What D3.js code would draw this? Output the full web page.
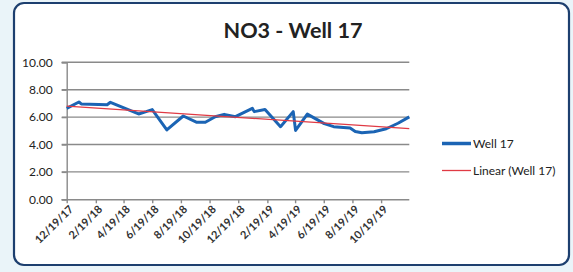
<!DOCTYPE html>
<html><head><meta charset="utf-8">
<script src="https://cdn.jsdelivr.net/npm/d3@7"></script>
<style>
html,body{margin:0;padding:0;background:#eaf4f9;}
svg{display:block;}
</style></head>
<body>
<svg id="c" width="573" height="272"></svg>
<script>
// ---- data ----
const title = "NO3 - Well 17";
const seriesName = "Well 17";
const trendName = "Linear (Well 17)";
const dates = ["2017-12-19","2018-01-14","2018-01-19","2018-03-15","2018-03-22","2018-05-21","2018-06-06","2018-06-19","2018-07-20","2018-08-24","2018-09-22","2018-10-10","2018-10-31","2018-11-19","2018-12-13","2019-01-18","2019-01-22","2019-02-14","2019-03-19","2019-04-15","2019-04-20","2019-05-15","2019-06-20","2019-07-10","2019-08-14","2019-08-25","2019-09-08","2019-10-04","2019-10-30","2019-11-24","2019-12-18"];
const values = [6.64,7.10,6.96,6.90,7.08,6.23,6.40,6.55,5.06,6.08,5.62,5.62,6.03,6.20,6.03,6.64,6.40,6.55,5.30,6.40,5.03,6.22,5.52,5.30,5.20,4.95,4.86,4.93,5.15,5.55,6.02];
const yTicks = [0,2,4,6,8,10];
const xTickLabels = ["12/19/17","2/19/18","4/19/18","6/19/18","8/19/18","10/19/18","12/19/18","2/19/19","4/19/19","6/19/19","8/19/19","10/19/19"];

const parse = d3.timeParse("%Y-%m-%d");
const parseTick = d3.timeParse("%m/%d/%y");
const pts = dates.map((d,i)=>({x:parse(d), y:values[i]}));

const svg = d3.select("#c");
const font = "Lato, 'Open Sans', sans-serif";

// frame
svg.append("rect").attr("x",14).attr("y",3).attr("width",555).attr("height",262)
  .attr("rx",10).attr("fill","#ffffff").attr("stroke","#1d3f6f").attr("stroke-width",2.2);

const L=66.7, R=409.3, T=62.3, B=199.3;
const x = d3.scaleTime().domain([pts[0].x, pts[pts.length-1].x]).range([L,R]);
const y = d3.scaleLinear().domain([0,10]).range([B,T]);

// gridlines
svg.append("g").selectAll("line").data(yTicks.filter(t=>t>0)).join("line")
  .attr("x1",L-5).attr("x2",R).attr("y1",d=>y(d)).attr("y2",d=>y(d))
  .attr("stroke","#8a8a8a").attr("stroke-width",1.4);

// y axis
const ya = svg.append("g").attr("transform",`translate(${L},0)`)
  .call(d3.axisLeft(y).tickValues(yTicks).tickSize(5).tickPadding(9).tickFormat(d3.format(".2f")));
ya.select(".domain").attr("stroke","#8a8a8a").attr("stroke-width",1.4);
ya.selectAll(".tick line").attr("stroke","#8a8a8a").attr("stroke-width",1.4);
ya.selectAll("text").attr("font-family",font).attr("font-size",12).attr("fill","#222");

// x axis
const tickDates = xTickLabels.map(parseTick);
const xa = svg.append("g").attr("transform",`translate(0,${B})`)
  .call(d3.axisBottom(x).tickValues(tickDates).tickSize(4).tickFormat((d,i)=>xTickLabels[i]));
xa.select(".domain").attr("stroke","#8a8a8a").attr("stroke-width",1.4)
  .attr("d",`M${L-5},0.5H${R}`);
xa.selectAll(".tick line").attr("stroke","#8a8a8a").attr("stroke-width",1.4);
xa.selectAll("text").attr("font-family",font).attr("font-size",11).attr("font-weight","bold").attr("fill","#333")
  .attr("text-anchor","end").attr("dy","0.35em").attr("y",0)
  .attr("transform","translate(4,8) rotate(-45)");

// series line
svg.append("path").datum(pts)
  .attr("d", d3.line().x(d=>x(d.x)).y(d=>y(d.y)))
  .attr("fill","none").attr("stroke","#1b64b4").attr("stroke-width",3).attr("stroke-linejoin","round");

// linear trend (least squares on the series)
const xs = pts.map(p=>+p.x), ys = pts.map(p=>p.y);
const mx = d3.mean(xs), my = d3.mean(ys);
const slope = d3.sum(xs.map((v,i)=>(v-mx)*(ys[i]-my))) / d3.sum(xs.map(v=>(v-mx)*(v-mx)));
const icpt = my - slope*mx;
const ends = [pts[0].x, pts[pts.length-1].x].map(d=>({x:d, y:icpt+slope*(+d)}));
svg.append("path").datum(ends)
  .attr("d", d3.line().x(d=>x(d.x)).y(d=>y(d.y)))
  .attr("fill","none").attr("stroke","#e03a44").attr("stroke-width",1.3);

// title
svg.append("text").attr("x",293).attr("y",38).attr("text-anchor","middle")
  .attr("font-family",font).attr("font-weight","bold").attr("font-size",21).attr("fill","#222")
  .attr("textLength",139).attr("lengthAdjust","spacingAndGlyphs").text(title);

// legend
const lg = svg.append("g");
lg.append("line").attr("x1",442).attr("x2",471).attr("y1",143.5).attr("y2",143.5).attr("stroke","#1b64b4").attr("stroke-width",3.5);
lg.append("text").attr("x",473).attr("y",148).attr("font-family",font).attr("font-size",12).attr("fill","#222").text(seriesName);
lg.append("line").attr("x1",442).attr("x2",471).attr("y1",170.5).attr("y2",170.5).attr("stroke","#e03a44").attr("stroke-width",1.3);
lg.append("text").attr("x",473).attr("y",175).attr("font-family",font).attr("font-size",12).attr("fill","#222").text(trendName);
</script>
</body></html>
